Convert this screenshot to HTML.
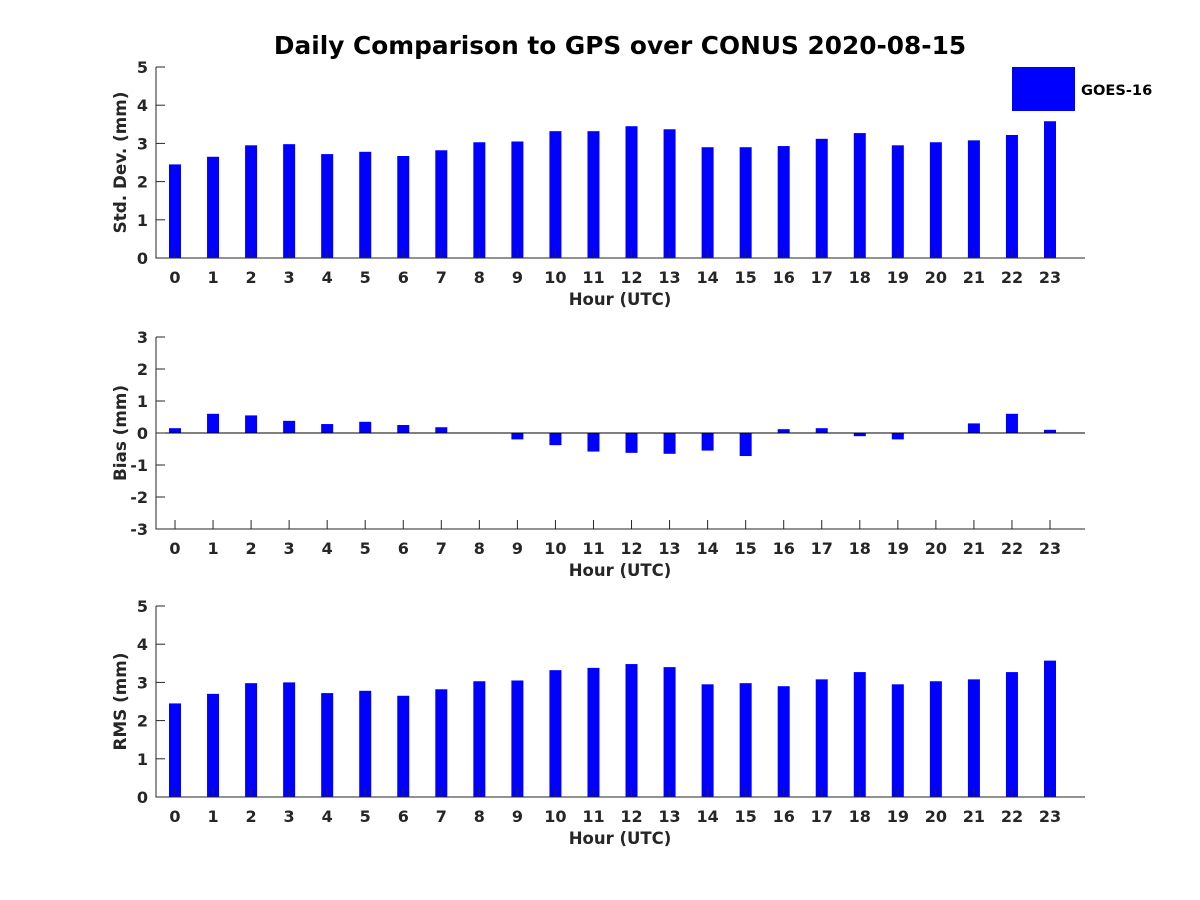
<!DOCTYPE html>
<html><head><meta charset="utf-8"><style>
body{margin:0;background:#fff}
svg{display:block;font-family:"DejaVu Sans","Liberation Sans",sans-serif;font-weight:bold}
</style></head><body>
<svg id="c" width="1200" height="900" viewBox="0 0 1200 900">
<text x="620" y="54" text-anchor="middle" font-size="24.8" fill="#000">Daily Comparison to GPS over CONUS 2020-08-15</text>
<rect x="1012" y="67" width="63" height="44" fill="#0000ff"/>
<text x="1081" y="95" font-size="14.6" fill="#000">GOES-16</text>
</svg>
<script>
const hours=[0,1,2,3,4,5,6,7,8,9,10,11,12,13,14,15,16,17,18,19,20,21,22,23];
const stdVals=[2.45,2.65,2.95,2.98,2.72,2.78,2.67,2.82,3.03,3.05,3.32,3.32,3.45,3.37,2.9,2.9,2.93,3.12,3.27,2.95,3.03,3.08,3.22,3.58];
const biasVals=[0.15,0.6,0.55,0.38,0.28,0.35,0.25,0.18,0,-0.2,-0.38,-0.58,-0.62,-0.65,-0.55,-0.72,0.12,0.15,-0.1,-0.2,0,0.3,0.6,0.1];
const rmsVals=[2.45,2.7,2.98,3.0,2.72,2.78,2.65,2.82,3.03,3.05,3.32,3.38,3.48,3.4,2.95,2.98,2.9,3.08,3.27,2.95,3.03,3.08,3.27,3.57];
const stdTicks=[0,1,2,3,4,5];
const biasTicks=[-3,-2,-1,0,1,2,3];
const rmsTicks=[0,1,2,3,4,5];
const svg=document.getElementById('c');
const NS='http://www.w3.org/2000/svg';
function mk(t,a){const e=document.createElementNS(NS,t);for(const k in a)e.setAttribute(k,a[k]);svg.appendChild(e);return e;}
const X0=156,X1=1085;
function xs(h){return 175+h*(1050-175)/23;}
function panel(name,top,bot,ymin,ymax,ticks,vals,ylabel){
  const ys=v=>bot-(v-ymin)/(ymax-ymin)*(bot-top);
  vals.forEach((v,i)=>{
    const y0=ys(0),y1=ys(v);
    const r=mk('rect',{x:xs(hours[i])-6,y:Math.min(y0,y1),width:12,height:Math.abs(y1-y0),fill:'#0000ff'});
    
    
  });
  if(ymin<0){const z=mk('line',{x1:X0,x2:X1,y1:ys(0),y2:ys(0),stroke:'#000','stroke-width':1});
    }
  const ax=mk('path',{d:`M${X0} ${top}V${bot}H${X1}`,fill:'none',stroke:'#262626','stroke-width':1});
  
  
  ticks.forEach(t=>{
    mk('line',{x1:X0,x2:X0+9,y1:ys(t),y2:ys(t),stroke:'#262626'});
    const l=mk('text',{x:X0-8,y:ys(t)+6,'text-anchor':'end','font-size':16,fill:'#262626'});
    l.textContent=t;
    
    
  });
  hours.forEach(h=>{
    mk('line',{x1:xs(h),x2:xs(h),y1:bot,y2:bot-9,stroke:'#262626'});
    const l=mk('text',{x:xs(h),y:bot+25,'text-anchor':'middle','font-size':16,fill:'#262626'});
    l.textContent=h;
    
    
  });
  const xl=mk('text',{x:620,y:bot+47,'text-anchor':'middle','font-size':16.5,fill:'#262626'});
  xl.textContent='Hour (UTC)';
  
  
  const cy=(top+bot)/2;
  const yl=mk('text',{x:126,y:cy,'text-anchor':'middle','font-size':16.8,fill:'#262626',transform:`rotate(-90 126 ${cy})`});
  yl.textContent=ylabel;
  
  
}
panel('std',67,258,0,5,stdTicks,stdVals,'Std. Dev. (mm)');
panel('bias',337,529,-3,3,biasTicks,biasVals,'Bias (mm)');
panel('rms',606,797,0,5,rmsTicks,rmsVals,'RMS (mm)');
</script>
</body></html>
